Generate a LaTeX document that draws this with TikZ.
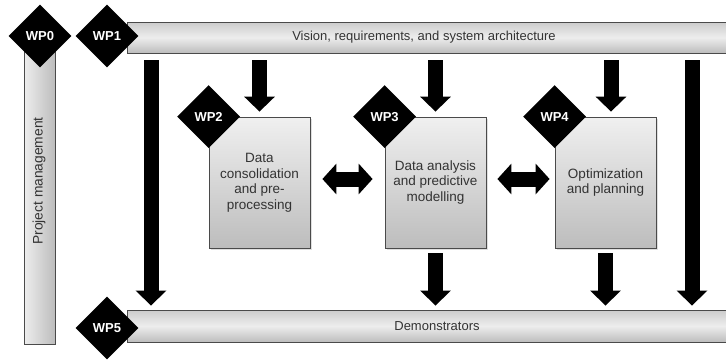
\documentclass[tikz,border=0pt]{standalone}
\usepackage{fontspec}
\setmainfont{Liberation Sans}
\usetikzlibrary{shapes.geometric,arrows.meta,shadows}
\definecolor{txt}{HTML}{333333}
\definecolor{edge}{HTML}{4A4A4A}
\begin{document}
\begin{tikzpicture}[x=1pt,y=-1pt,
  hbar/.style={draw=edge,line width=0.9pt,rectangle,inner sep=0,
    top color=black!20,bottom color=black!26,middle color=black!7},
  vbar/.style={draw=edge,line width=0.9pt,rectangle,inner sep=0,
    left color=black!7,right color=black!26},
  barlabel/.style={text=txt,font=\fontsize{13}{15}\selectfont},
  wpbox/.style={draw=edge,line width=0.8pt,rectangle,inner sep=0,
    minimum width=101pt,minimum height=131pt,
    top color=black!6,bottom color=black!26,
    drop shadow={shadow xshift=1.5pt,shadow yshift=-1.5pt,opacity=0.25},
    align=center,text=txt,font=\fontsize{13.5}{15.5}\selectfont},
  wptag/.style={diamond,fill=black,inner sep=0,minimum size=63pt,aspect=1,
    text=white,font=\fontsize{13}{15}\bfseries\selectfont},
  bigarrow/.style={line width=15pt,-{Triangle[width=30pt,length=15pt]}},
  duoarrow/.style={line width=15pt,{Triangle[width=30pt,length=14pt]}-{Triangle[width=30pt,length=14pt]}},
]
\useasboundingbox (0,0) rectangle (726,360);

% long bars
\node[vbar,minimum width=31pt,minimum height=308pt] (wp0bar) at (39.5,190) {};
\node[barlabel,rotate=90,font=\fontsize{13.8}{15}\selectfont] (pm) at (39,181) {Project management};
\node[hbar,minimum width=610pt,minimum height=31pt] (wp1bar) at (432,37.5) {};
\node[barlabel] (vision) at (424,37.5) {Vision, requirements, and system architecture};
\node[hbar,minimum width=610pt,minimum height=32pt] (wp5bar) at (432,326) {};
\node[barlabel] (demo) at (437,326) {Demonstrators};

% work package boxes
\node[wpbox] (b2) at (259.5,182.5) {Data\\consolidation\\and pre-\\processing};
\node[wpbox] (b3) at (435.5,182.5) {Data analysis\\and predictive\\modelling};
\node[wpbox] (b4) at (605.5,182.5) {Optimization\\and planning};

% tags
\node[wptag] (t0) at (40,36) {WP0};
\node[wptag] (t1) at (107,36) {WP1};
\node[wptag] (t5) at (107,328) {WP5};
\node[wptag] (t2) at (b2.north west) {WP2};
\node[wptag] (t3) at (b3.north west) {WP3};
\node[wptag] (t4) at (b4.north west) {WP4};

% flows
\coordinate (lx) at (151,0);
\coordinate (rx) at (692,0);
\coordinate (t4x) at (611,0);
\draw[bigarrow,shorten <=7pt,shorten >=4pt] (wp1bar.south -| lx) -- (wp5bar.north -| lx);
\draw[bigarrow,shorten <=7pt,shorten >=4pt] (wp1bar.south -| rx) -- (wp5bar.north -| rx);
\draw[bigarrow,shorten <=7pt,shorten >=5pt] (wp1bar.south -| b2.north) -- (b2.north);
\draw[bigarrow,shorten <=7pt,shorten >=5pt] (wp1bar.south -| b3.north) -- (b3.north);
\draw[bigarrow,shorten <=7pt,shorten >=5pt] (wp1bar.south -| t4x) -- (b4.north -| t4x);
\draw[bigarrow,shorten <=5pt,shorten >=4pt] (b3.south) -- (wp5bar.north -| b3.south);
\draw[bigarrow,shorten <=5pt,shorten >=4pt] (b4.south) -- (wp5bar.north -| b4.south);
\draw[duoarrow,shorten <=12pt,shorten >=12pt] ([yshift=3.5pt]b2.east) -- ([yshift=3.5pt]b3.west);
\draw[duoarrow,shorten <=11pt,shorten >=5pt] ([yshift=3.5pt]b3.east) -- ([yshift=3.5pt]b4.west);
\end{tikzpicture}
\end{document}
